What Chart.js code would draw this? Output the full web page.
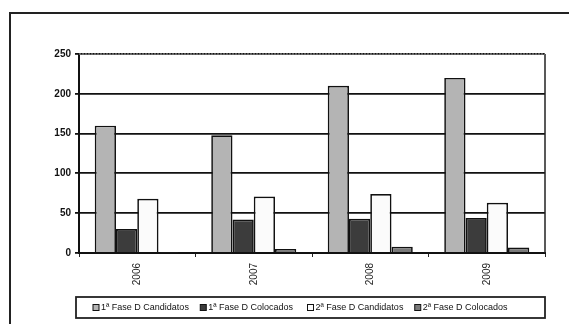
<!DOCTYPE html>
<html>
<head>
<meta charset="utf-8">
<script src="https://cdn.jsdelivr.net/npm/chart.js@4/dist/chart.umd.min.js"></script>
<style>
  body { margin: 0; background: #fff; }
  #wrap { position: relative; width: 569px; height: 324px; overflow: hidden; }
  #frame { position: absolute; left: 9px; top: 12px; width: 600px; height: 400px;
           border-left: 2px solid #222; border-top: 2px solid #222; }
  canvas { position: absolute; left: 0; top: 0; }
</style>
</head>
<body>
<div id="wrap">
  <div id="frame"></div>
  <canvas id="myChart" width="569" height="324"></canvas>
</div>
<script>
// data
const years = ['2006', '2007', '2008', '2009'];
const fase1Candidatos = [160, 148, 210, 220];
const fase1Colocados = [30, 42, 43, 44];
const fase2Candidatos = [68, 71, 74, 63];
const fase2Colocados = [1, 5, 8, 7];
const seriesNames = ['1ª Fase D Candidatos', '1ª Fase D Colocados', '2ª Fase D Candidatos', '2ª Fase D Colocados'];
const yTicks = [0, 50, 100, 150, 200, 250];

const fills = ['#b4b4b4', '#3c3c3c', '#fbfbfb', '#7a7a7a'];

// right/top edge of the plot + boxed legend (drawn by hand, spaced like the original)
const frameBits = {
    id: 'frameBits',
    afterDraw(chart) {
        const ctx = chart.ctx;
        const a = chart.chartArea;
        ctx.save();
        ctx.strokeStyle = '#222';
        ctx.lineWidth = 1.5;
        ctx.beginPath();
        ctx.moveTo(a.right, a.top);
        ctx.lineTo(a.right, a.bottom);
        ctx.stroke();
        ctx.strokeStyle = '#777';
        ctx.setLineDash([2, 1]);
        ctx.beginPath();
        ctx.moveTo(a.left, a.top);
        ctx.lineTo(a.right, a.top);
        ctx.stroke();
        ctx.setLineDash([]);

        // legend
        const bx = a.left - 3, by = a.bottom + 44, bw = a.right - bx, bh = 21;
        ctx.strokeStyle = '#222';
        ctx.lineWidth = 1.8;
        ctx.strokeRect(bx, by, bw, bh);
        const step = (bw - 40) / chart.data.datasets.length;
        const cy = by + bh / 2;
        ctx.font = '9px "Liberation Sans"';
        ctx.textBaseline = 'middle';
        ctx.textAlign = 'left';
        chart.data.datasets.forEach((ds, i) => {
            const x = bx + 20 + i * step;
            ctx.fillStyle = ds.backgroundColor;
            ctx.fillRect(x - 3, cy - 3, 6, 6);
            ctx.lineWidth = 1;
            ctx.strokeStyle = '#111';
            ctx.strokeRect(x - 3, cy - 3, 6, 6);
            ctx.fillStyle = '#111';
            ctx.fillText(ds.label, x + 5, cy + 0.5);
        });
        ctx.restore();
    }
};

const ctx = document.getElementById('myChart').getContext('2d');
const myChart = new Chart(ctx, {
    type: 'bar',
    data: {
        labels: years,
        datasets: [fase1Candidatos, fase1Colocados, fase2Candidatos, fase2Colocados].map((d, i) => ({
            label: seriesNames[i],
            data: d,
            backgroundColor: fills[i],
            borderColor: '#111',
            borderWidth: 1.7,
            categoryPercentage: 0.73,
            barPercentage: 1
        }))
    },
    options: {
        responsive: false,
        animation: false,
        layout: { padding: { left: 0, top: 54, right: 24, bottom: 31 } },
        plugins: {
            tooltip: { enabled: false },
            legend: { display: false }
        },
        scales: {
            x: {
                grid: { drawOnChartArea: false, color: '#222', tickLength: 4, offset: true },
                border: { color: '#111', width: 2 },
                ticks: {
                    maxRotation: 90, minRotation: 90, color: '#222', padding: 6,
                    font: { family: 'Liberation Sans', size: 10 }
                },
                afterFit(scale) { scale.height = 40; }
            },
            y: {
                min: 0, max: 250,
                afterBuildTicks(scale) { scale.ticks = yTicks.map(v => ({ value: v })); },
                grid: { color: '#111', lineWidth: 1.8, tickLength: 4 },
                border: { color: '#111', width: 2 },
                ticks: {
                    color: '#111', padding: 4,
                    font: { family: 'Liberation Sans', size: 10, weight: 'bold' }
                },
                afterFit(scale) { scale.width = 79; }
            }
        }
    },
    plugins: [frameBits]
});
</script>
</body>
</html>
